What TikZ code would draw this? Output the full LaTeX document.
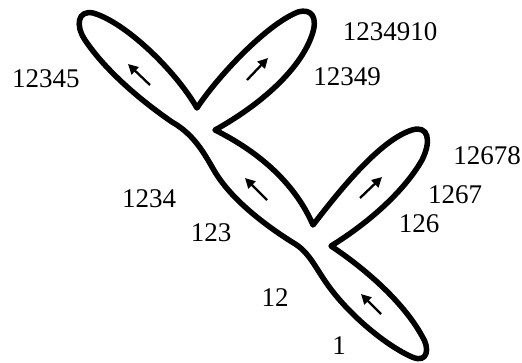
\documentclass[tikz,border=0pt]{standalone}
\usepackage{fontspec}
\setmainfont{Liberation Serif}
\usetikzlibrary{arrows.meta}
\begin{document}
\begin{tikzpicture}[x=1pt,y=-1pt,
  outline/.style={line width=5.5pt, line join=round},
  flow/.style={line width=2.3pt, -{Triangle[length=10pt,width=10pt]}},
  lbl/.style={font=\fontsize{27}{30}\selectfont, inner sep=0pt}]
\useasboundingbox (0,0) rectangle (522,362);
\draw[outline]
  (215,130) .. controls (260,105) and (300,70) .. (312,35)
  .. controls (318,18) and (312,8) .. (298,12)
  .. controls (265,25) and (215,80) .. (197,108)
  .. controls (175,70) and (125,22) .. (93,13)
  .. controls (78,10) and (75,25) .. (85,40)
  .. controls (105,70) and (140,100) .. (172,122)
  .. controls (195,135) and (205,155) .. (215,172)
  .. controls (232,200) and (265,225) .. (292,242)
  .. controls (310,252) and (315,268) .. (330,288)
  .. controls (350,315) and (385,345) .. (412,357)
  .. controls (428,364) and (430,348) .. (422,336)
  .. controls (405,305) and (370,272) .. (331,246)
  .. controls (370,222) and (405,190) .. (422,160)
  .. controls (432,140) and (428,125) .. (412,130)
  .. controls (380,140) and (340,190) .. (313,225)
  .. controls (297,188) and (265,155) .. (215,130)
  -- cycle;
\coordinate (a1s) at (150,85);  \coordinate (a1e) at (128,64);
\coordinate (a2s) at (247,80);  \coordinate (a2e) at (268,58);
\coordinate (a3s) at (267,200); \coordinate (a3e) at (245,178);
\coordinate (a4s) at (360,198); \coordinate (a4e) at (382,177);
\coordinate (a5s) at (381,314); \coordinate (a5e) at (361,294);
\draw[flow] (a1s) -- (a1e);
\draw[flow] (a2s) -- (a2e);
\draw[flow] (a3s) -- (a3e);
\draw[flow] (a4s) -- (a4e);
\draw[flow] (a5s) -- (a5e);
\node[lbl] (l12345) at (46,79) {12345};
\node[lbl] (l1234910) at (390,32) {1234910};
\node[lbl] (l12349) at (347,77) {12349};
\node[lbl] (l12678) at (487,156) {12678};
\node[lbl] (l1267) at (455,195) {1267};
\node[lbl] (l126) at (419,224) {126};
\node[lbl] (l1234) at (149,199) {1234};
\node[lbl] (l123) at (211,233) {123};
\node[lbl] (l12) at (275,298) {12};
\node[lbl] (l1) at (339,346) {1};
\end{tikzpicture}
\end{document}
